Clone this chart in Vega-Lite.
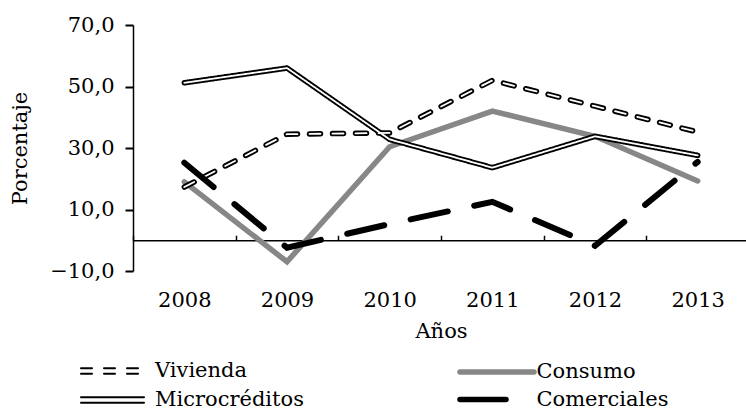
{
  "$schema": "https://vega.github.io/schema/vega-lite/v6.json",
  "autosize": {"type": "none"},
  "padding": {"left": 133, "top": 25, "right": 0, "bottom": 139},
  "width": 616,
  "height": 246,
  "background": "white",
  "config": {
    "view": {"stroke": null},
    "font": "DejaVu Serif",
    "axis": {"grid": false, "labelFont": "DejaVu Serif", "titleFont": "DejaVu Serif", "labelColor": "black", "titleColor": "black", "titleFontWeight": "normal", "labelFontSize": 21, "titleFontSize": 21},
    "legend": {"labelFont": "DejaVu Serif", "labelFontSize": 21, "labelColor": "black", "labelLimit": 300}
  },
  "data": {
    "values": [
      {"anio": "2008", "serie": "Vivienda", "valor": 17.3},
      {"anio": "2009", "serie": "Vivienda", "valor": 34.5},
      {"anio": "2010", "serie": "Vivienda", "valor": 34.9},
      {"anio": "2011", "serie": "Vivienda", "valor": 52.0},
      {"anio": "2012", "serie": "Vivienda", "valor": 43.6},
      {"anio": "2013", "serie": "Vivienda", "valor": 35.2},
      {"anio": "2008", "serie": "Microcréditos", "valor": 51.2},
      {"anio": "2009", "serie": "Microcréditos", "valor": 56.0},
      {"anio": "2010", "serie": "Microcréditos", "valor": 32.8},
      {"anio": "2011", "serie": "Microcréditos", "valor": 23.6},
      {"anio": "2012", "serie": "Microcréditos", "valor": 33.8},
      {"anio": "2013", "serie": "Microcréditos", "valor": 27.6},
      {"anio": "2008", "serie": "Consumo", "valor": 19.0},
      {"anio": "2009", "serie": "Consumo", "valor": -7.0},
      {"anio": "2010", "serie": "Consumo", "valor": 30.4},
      {"anio": "2011", "serie": "Consumo", "valor": 42.0},
      {"anio": "2012", "serie": "Consumo", "valor": 33.8},
      {"anio": "2013", "serie": "Consumo", "valor": 19.3},
      {"anio": "2008", "serie": "Comerciales", "valor": 25.2},
      {"anio": "2009", "serie": "Comerciales", "valor": -2.4},
      {"anio": "2010", "serie": "Comerciales", "valor": 5.3},
      {"anio": "2011", "serie": "Comerciales", "valor": 12.5},
      {"anio": "2012", "serie": "Comerciales", "valor": -1.8},
      {"anio": "2013", "serie": "Comerciales", "valor": 25.5}
    ]
  },
  "layer": [
    {
      "transform": [{"filter": "datum.serie === 'Consumo'"}],
      "mark": {"type": "line", "strokeWidth": 5.5, "strokeCap": "round", "strokeJoin": "miter"},
      "encoding": {
        "x": {"field": "anio", "type": "ordinal", "scale": {"type": "point", "padding": 0.5},
          "axis": {"orient": "bottom", "domain": false, "ticks": false, "tickSize": 0, "labelAngle": 0, "labelPadding": 18, "title": "Años", "titlePadding": 10}},
        "y": {"field": "valor", "type": "quantitative", "scale": {"domain": [-10, 70], "nice": false, "zero": false},
          "axis": {"orient": "left", "zindex": 1, "values": [-10, 10, 30, 50, 70], "labelExpr": "replace(format(datum.value, '.1f'), '.', ',')", "domain": true, "domainColor": "black", "domainWidth": 1.5, "ticks": true, "tickSize": 8, "tickColor": "black", "tickWidth": 2, "tickOpacity": 1, "labelPadding": 11, "title": "Porcentaje", "titlePadding": 19,
            "encode": {"ticks": {"update": {"x": {"value": 0}, "x2": {"value": 9}}}}}},
        "color": {"field": "serie", "type": "nominal", "scale": {"domain": ["Consumo", "Comerciales"], "range": ["#878787", "black"]},
          "legend": {"orient": "none", "legendX": 351, "legendY": 334, "direction": "vertical", "title": null, "symbolType": "M-3.7,0H3.7", "symbolSize": 400, "symbolStrokeWidth": 5.5, "labelOffset": 26.5, "rowPadding": 3.5,
            "encode": {"symbols": {"update": {"strokeDash": {"signal": "datum.value === 'Comerciales' ? [46, 40] : []"}, "strokeCap": {"value": "round"}}}}}}
      }
    },
    {
      "transform": [{"filter": "datum.serie === 'Vivienda' || datum.serie === 'Microcréditos'"}],
      "mark": {"type": "line", "stroke": "black", "strokeWidth": 5.5, "strokeCap": "round", "strokeJoin": "round"},
      "encoding": {
        "x": {"field": "anio", "type": "ordinal", "scale": {"type": "point", "padding": 0.5},
          "axis": {"orient": "top", "offset": -215.25, "labels": false, "title": null, "domain": true, "domainColor": "black", "domainWidth": 1.5, "ticks": true, "tickColor": "black", "tickWidth": 1.5, "tickSize": 5, "tickOffset": -51.33}},
        "y": {"field": "valor", "type": "quantitative"},
        "strokeDash": {"field": "serie", "type": "nominal", "scale": {"domain": ["Vivienda", "Microcréditos"], "range": [[11, 12], [1, 0]]},
          "legend": {"orient": "none", "legendX": -32, "legendY": 334.5, "direction": "vertical", "title": null, "symbolType": "M-3,-0.257H3M-3,0.257H3", "symbolSize": 441, "symbolStrokeWidth": 2, "symbolStrokeColor": "black", "symbolFillColor": "transparent", "labelOffset": 31, "rowPadding": 7,
            "encode": {"symbols": {"update": {"strokeDash": {"signal": "datum.value === 'Vivienda' ? [15, 8] : []"}, "strokeCap": {"value": "round"}}}}}}
      }
    },
    {
      "transform": [{"filter": "datum.serie === 'Vivienda' || datum.serie === 'Microcréditos'"}],
      "mark": {"type": "line", "stroke": "white", "strokeWidth": 1.8, "strokeCap": "round", "strokeJoin": "round"},
      "encoding": {
        "x": {"field": "anio", "type": "ordinal", "axis": null},
        "y": {"field": "valor", "type": "quantitative"},
        "strokeDash": {"field": "serie", "type": "nominal",
          "legend": {"orient": "none", "legendX": -32, "legendY": 334.5, "direction": "vertical", "title": null, "symbolType": "M-3,-0.257H3M-3,0.257H3", "symbolSize": 441, "symbolStrokeWidth": 2, "symbolStrokeColor": "black", "symbolFillColor": "transparent", "labelOffset": 31, "rowPadding": 7,
            "encode": {"symbols": {"update": {"strokeDash": {"signal": "datum.value === 'Vivienda' ? [15, 8] : []"}, "strokeCap": {"value": "round"}}}}}}
      }
    },
    {
      "transform": [{"filter": "datum.serie === 'Comerciales'"}],
      "mark": {"type": "line", "strokeWidth": 6, "strokeCap": "round", "strokeDash": [38, 27]},
      "encoding": {
        "x": {"field": "anio", "type": "ordinal", "axis": null},
        "y": {"field": "valor", "type": "quantitative"},
        "color": {"field": "serie", "type": "nominal",
          "legend": {"orient": "none", "legendX": 351, "legendY": 334, "direction": "vertical", "title": null, "symbolType": "M-3.7,0H3.7", "symbolSize": 400, "symbolStrokeWidth": 5.5, "labelOffset": 26.5, "rowPadding": 3.5,
            "encode": {"symbols": {"update": {"strokeDash": {"signal": "datum.value === 'Comerciales' ? [46, 40] : []"}, "strokeCap": {"value": "round"}}}}}}
      }
    }
  ],
  "resolve": {"axis": {"x": "independent"}}
}
